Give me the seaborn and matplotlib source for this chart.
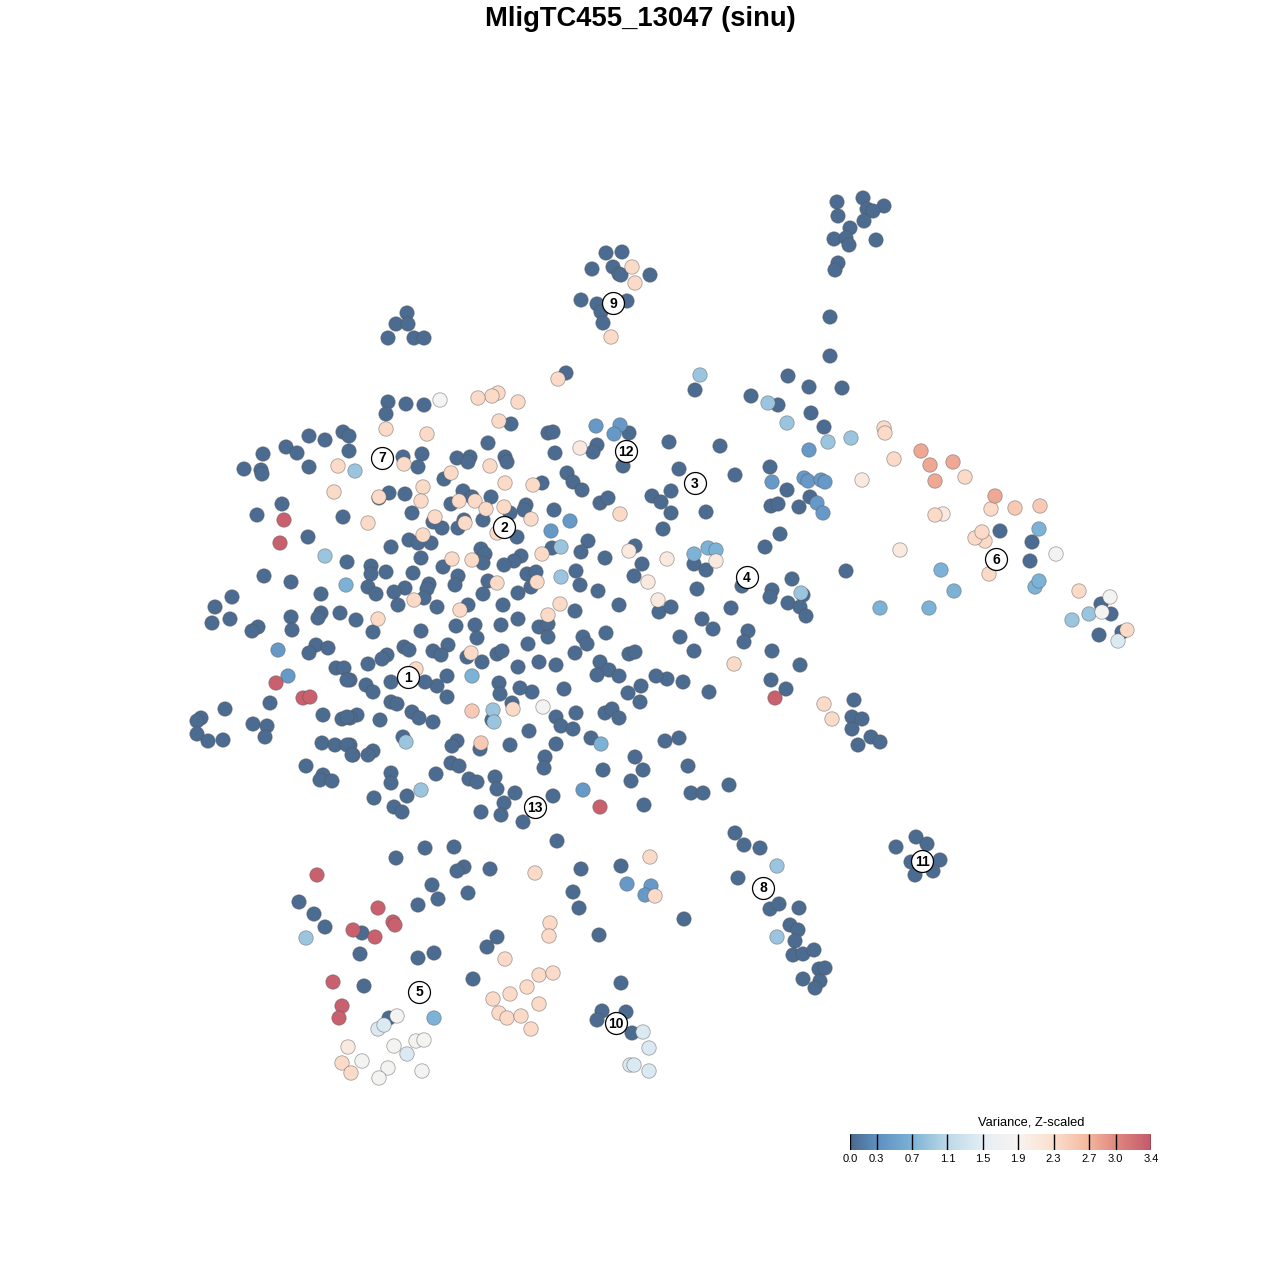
import numpy as np
import pandas as pd
import seaborn as sns
import matplotlib.pyplot as plt
from matplotlib.colors import LinearSegmentedColormap, Normalize

plt.rcParams['font.family'] = ['Liberation Sans', 'DejaVu Sans']

# points per variance level, coordinates
v_00 = [(863,198),(837,202),(884,206),(867,209),(873,211),(838,216),(864,221),(850,228),(834,239),(846,238),(849,245),(876,240),(838,263),(835,270),(830,317),(830,356),
    (606,253),(622,252),(613,267),(592,269),(619,274),(621,275),(650,275),(581,300),(597,304),(627,301),(601,312),(603,323),
    (407,313),(396,324),(408,324),(388,338),(414,338),(424,338),
    (566,373),(695,390),(788,376),(809,387),(842,388),(751,396),(778,405),(811,413),(824,427),
    (388,402),(406,404),(424,405),(386,414),(511,424),(548,433),(553,432),(629,433),(669,442),(720,446),(343,432),(349,436),(309,436),(325,440),(286,447),(263,454),(349,451),(297,453),
    (623,466),(244,469),(261,470),(262,474),(309,467),(679,469),(735,475),(770,467),
    (403,457),(422,454),(418,467),(457,458),(470,457),(468,462),(505,457),(507,462),(555,453),(597,445),(593,452),(488,443),(567,473),(573,482),(582,490),(542,483),(444,479),(389,493),(379,498),(405,494),(463,491),(472,497),(451,504),(491,497),(526,505),(524,510),(510,513),(554,510),(600,503),(608,498),(412,513),(483,520),(433,522),(442,528),(464,520),(458,528),(517,537),(409,540),(418,543),(431,543),(391,547),(588,541),(581,552),(552,548),(481,549),(485,554),(483,563),(421,558),(443,567),(521,556),(514,561),(504,565),(605,558),(371,566),(371,574),(386,572),(413,573),(458,576),(455,585),(429,584),(427,589),(405,588),(394,592),(368,587),(376,594),(424,598),(398,605),(437,607),(488,581),(483,594),(527,574),(536,572),(531,587),(518,593),(576,571),(580,585),(598,591),(503,605),(468,605),(518,619),(575,611),(539,627),(548,624),(501,625),(475,625),(456,626),(421,631),(373,632),(356,620),(477,638),(583,637),(606,633),(548,637),
    (404,647),(409,650),(387,655),(382,659),(368,664),(448,645),(433,651),(441,655),(467,657),(497,654),(502,651),(528,644),(539,662),(556,665),(518,667),(482,662),(587,644),(575,653),(629,654),(635,652),(600,662),(609,670),(597,675),(619,676),(641,686),(628,693),(640,702),(564,689),(532,692),(520,688),(499,683),(500,694),(447,676),(437,686),(425,682),(447,697),(391,682),(366,685),(373,692),(350,680),(391,702),(397,704),(412,712),(419,718),(433,722),(380,720),(357,715),(350,718),(512,703),(576,713),(556,717),(561,726),(573,729),(605,713),(612,709),(619,718),(529,731),(492,720),(591,738),(556,744),(510,745),(403,737),(457,741),(452,746),(480,749),(373,751),(368,755),(353,755),(350,745),(545,757),(544,768),(451,763),(459,766),(635,757),(643,770),(631,781),(603,770),(391,773),(391,783),(436,774),(469,779),(477,782),(495,777),(497,789),(515,793),(553,796),(407,796),(374,798),(394,807),(402,812),(504,803),(481,812),(501,815),(523,822),(644,805),
    (257,515),(282,504),(308,537),(343,517),(347,562),(264,576),(291,582),(321,594),(232,597),(215,607),(212,623),(230,619),(291,617),(292,630),(321,613),(318,618),(340,613),(258,627),(252,631),(316,645),(309,653),(328,648),(336,668),(344,668),(347,680),(225,709),(270,703),(201,718),(197,721),(197,734),(208,741),(223,740),(253,724),(267,726),(265,737),(323,715),(342,719),(347,717),(322,743),(335,745),(347,745),(352,755),(306,766),(323,775),(320,780),(332,781),
    (652,496),(661,502),(671,491),(671,513),(706,512),(663,529),(635,546),(642,564),(634,576),(619,605),(659,612),(671,607),(697,589),(694,564),(706,570),(731,608),(702,619),(713,629),(680,637),(694,651),(748,631),(744,642),(772,651),(800,665),(771,680),(786,689),(709,692),(683,682),(667,679),(656,676),(765,547),(780,534),(771,506),(778,504),(787,490),(799,507),(810,497),(846,571),(792,579),(772,590),(770,597),(788,603),(803,595),(800,607),(806,616),(742,586),
    (688,766),(729,785),(691,793),(703,793),(665,741),(679,738),(735,833),(744,845),(760,848),(738,878),(770,909),(779,904),(799,908),(790,925),(798,930),(795,941),(793,955),(803,954),(814,950),(819,969),(825,968),(803,979),(820,981),(815,988),
    (854,700),(852,717),(862,719),(852,729),(871,737),(880,742),(858,745),
    (916,837),(927,844),(896,847),(911,862),(940,860),(915,875),(933,871),
    (1000,531),(1032,542),(1030,561),(1101,604),(1111,614),(1099,635),(1122,632),
    (557,841),(425,848),(454,847),(396,858),(464,867),(457,871),(490,869),(581,869),(621,866),(432,885),(573,892),(438,899),(468,893),(418,905),(579,908),(684,919),(299,902),(314,914),(325,927),(362,933),(497,937),(487,947),(599,935),(434,953),(418,958),(360,954),(473,979),(364,986),(621,983),(602,1011),(626,1012),(597,1020),(632,1033),(389,1018)]
v_04 = [(596,426),(620,425),(614,434),(809,450),(772,482),(804,478),(808,481),(821,480),(825,482),(817,503),(823,513),(570,521),(551,531),(583,790),(278,650),(288,676),(627,884),(651,886),(645,895)]
v_07 = [(694,554),(708,548),(716,550),(941,570),(954,591),(929,608),(880,608),(1035,587),(1039,581),(601,744),(346,585),(472,676),(434,1018),(1039,529)]
v_09 = [(355,471),(325,556),(561,577),(561,547),(700,375),(768,403),(787,423),(828,442),(851,438),(493,710),(494,722),(406,742),(421,790),(777,866),(777,937),(306,938),(801,593),(1072,620),(1089,614)]
v_14 = [(378,1029),(384,1025),(407,1054),(649,1048),(643,1032),(649,1071),(630,1065),(634,1065),(1118,641)]
v_18 = [(440,400),(543,707),(1056,554),(1102,612),(1110,597),(397,1016),(394,1046),(416,1041),(424,1040),(362,1061),(388,1068),(379,1078),(422,1071)]
v_21 = [(580,448),(862,480),(900,550),(629,551),(648,582),(667,559),(658,600),(716,561),(348,1047),(943,514)]
v_23 = [(498,393),(492,396),(478,398),(518,402),(499,421),(386,429),(427,434),(884,428),(885,433),(894,459),(558,379),(338,466),(404,464),(451,473),(490,466),(423,487),(505,483),(533,485),(334,492),(379,497),(421,501),(459,501),(475,501),(486,509),(504,507),(435,517),(465,523),(531,519),(620,514),(368,523),(497,533),(423,535),(542,554),(452,559),(472,560),(497,583),(537,582),(414,600),(460,610),(548,615),(560,604),(378,619),(471,653),(416,669),(513,709),(734,664),(824,704),(832,719),(935,515),(991,509),(985,541),(975,538),(982,532),(989,574),(611,337),(632,267),(635,283),(1079,591),(1127,630),(650,857),(535,873),(655,896),(550,923),(549,936),(505,959),(539,975),(553,973),(527,987),(493,999),(510,994),(539,1004),(499,1013),(507,1018),(521,1016),(531,1029),(342,1063),(351,1073),(965,477)]
v_25 = [(472,711),(481,743),(1015,508),(1040,506)]
v_28 = [(921,451),(953,462),(930,465),(935,481),(995,496)]
v_33 = [(284,520),(280,543),(276,683),(303,698),(310,697),(775,698),(600,807),(317,875),(378,908),(393,922),(395,925),(353,930),(375,937),(333,982),(342,1006),(339,1018)]

levels = [(0.0, v_00), (0.4, v_04), (0.7, v_07), (0.9, v_09), (1.4, v_14), (1.8, v_18),
          (2.1, v_21), (2.35, v_23), (2.5, v_25), (2.8, v_28), (3.35, v_33)]

cluster_ids = ['1', '2', '3', '4', '5', '6', '7', '8', '9', '10', '11', '12', '13']
cluster_x = [408, 504, 695, 747, 419, 996, 382, 763, 613, 616, 922, 626, 535]
cluster_y = [677, 527, 483, 577, 992, 559, 458, 888, 303, 1023, 861, 451, 807]

bar_ticks = [0.0, 0.3, 0.7, 1.1, 1.5, 1.9, 2.3, 2.7, 3.0, 3.4]
bar_colors = ['#4b6b90', '#5e90c2', '#7db3d6', '#bcd9e8', '#e4eef5', '#f8f4f1', '#fcdfce', '#f5b79e', '#e08a80', '#c55b6b']

cmap = LinearSegmentedColormap.from_list('var', [(t / 3.4, c) for t, c in zip(bar_ticks, bar_colors)])
norm = Normalize(0, 3.4)

rows = [(x, y, v) for v, pts in levels for x, y in pts]
df = pd.DataFrame(rows, columns=['x', 'y', 'var']).drop_duplicates(['x', 'y'])
df = df.sort_values('var', kind='stable')

fig = plt.figure(figsize=(12.8, 12.8), dpi=100)
ax = fig.add_axes([0, 0, 1, 1])
sns.scatterplot(data=df, x='x', y='y', hue='var', palette=cmap, hue_norm=norm, s=108,
                edgecolor='#55555580', linewidth=0.6, legend=False, ax=ax)
ax.set_xlim(0, 1280)
ax.set_ylim(1280, 0)
ax.axis('off')

# numbered cluster labels
ax.scatter(cluster_x, cluster_y, s=250, c='white', edgecolors='black', linewidths=0.9, zorder=5)
for c, x, y in zip(cluster_ids, cluster_x, cluster_y):
    ax.text(x, y + 0.5, c, ha='center', va='center', fontsize=10, fontweight='bold', zorder=6)

ax.text(640, 19, 'MligTC455_13047 (sinu)', ha='center', va='center', fontsize=19.7, fontweight='bold')

# colour bar
cax = fig.add_axes([850 / 1280, 1 - 1149.5 / 1280, 301 / 1280, 15.5 / 1280])
cax.imshow(np.linspace(0, 3.4, 400)[None, :], cmap=cmap, norm=norm, aspect='auto', extent=[0, 3.4, 0, 1])
cax.vlines(bar_ticks, 0, 1, color='black', linewidth=1)
cax.set_xlim(0, 3.4)
cax.set_ylim(0, 1)
cax.set_yticks([])
cax.set_xticks(bar_ticks, [f'{t:.1f}' for t in bar_ticks], fontsize=8)
cax.tick_params(axis='x', length=0, pad=3.5)
for s in cax.spines.values():
    s.set_visible(False)
ax.text(1031, 1122.5, 'Variance, Z-scaled', ha='center', va='center', fontsize=9.3)

fig.savefig('out.png', dpi=100)
